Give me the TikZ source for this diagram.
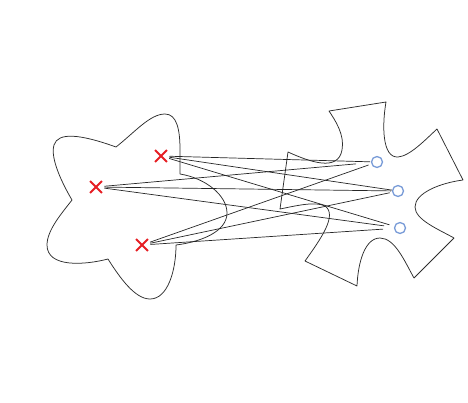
\documentclass[tikz,border=0pt]{standalone}
\usetikzlibrary{shapes.misc}
\definecolor{crossred}{RGB}{230,30,35}
\definecolor{ringblue}{RGB}{120,155,215}
\definecolor{outline}{RGB}{45,45,45}
\tikzset{
  xmark/.style={cross out, draw=crossred, line width=1.9pt, minimum size=10pt, inner sep=0pt},
  ring/.style={circle, draw=ringblue, line width=1.3pt, minimum size=11pt, inner sep=0pt},
  blob/.style={draw=outline, line width=0.75pt, line join=round},
  link/.style={draw=black!85, line width=0.7pt, shorten <=8.5pt}
}
\begin{document}
\begin{tikzpicture}[x=1pt,y=-1pt]
\useasboundingbox (0,0) rectangle (468,402);
% left star-like shape
\draw[blob] (116,147)
  .. controls (135,132) and (150,114) .. (165,114)
  .. controls (177,114) and (180,130) .. (180,150) -- (180,174)
  .. controls (205,178) and (227,195) .. (227,213)
  .. controls (227,232) and (200,242) .. (176,245)
  .. controls (176,270) and (168,299) .. (150,299)
  .. controls (135,299) and (120,278) .. (108,259)
  .. controls (85,265) and (47,268) .. (47,245)
  .. controls (47,230) and (62,213) .. (72,200)
  .. controls (62,183) and (50,158) .. (54,145)
  .. controls (58,132) and (80,134) .. cycle;
% right shape
\draw[blob] (329,111) -- (386,102)
  .. controls (382,125) and (382,158) .. (398,157)
  .. controls (410,156) and (425,140) .. (437,129) -- (463,180)
  .. controls (440,183) and (415,193) .. (415,207)
  .. controls (415,220) and (440,230) .. (454,238) -- (414,278)
  .. controls (405,262) and (395,238) .. (380,238)
  .. controls (365,238) and (358,262) .. (357,286) -- (305,261)
  .. controls (320,240) and (338,215) .. (325,206)
  .. controls (315,201) and (295,206) .. (280,209) -- (288,152)
  .. controls (310,162) and (338,172) .. (342,150)
  .. controls (345,135) and (335,120) .. cycle;
% points
\node[xmark] (x1) at (161,156) {};
\node[xmark] (x2) at (96,187) {};
\node[xmark] (x3) at (142,245) {};
\node[ring] (c1) at (377,162) {};
\node[ring] (c2) at (398,191) {};
\node[ring] (c3) at (400,228) {};
% links
\draw[link, shorten >=7pt] (x1.center) -- (c1.center);
\draw[link, shorten >=6pt] (x1.center) -- (c2.center);
\draw[link, shorten >=11pt] (x1.center) -- (c3.center);
\draw[link, shorten >=21pt] (x2.center) -- (c1.center);
\draw[link, shorten >=7pt] (x2.center) -- (c2.center);
\draw[link, shorten >=16pt] (x2.center) -- (c3.center);
\draw[link, shorten >=9pt] (x3.center) -- (c1.center);
\draw[link, shorten >=8.5pt] (x3.center) -- (c2.center);
\draw[link, shorten >=17pt] (x3.center) -- (c3.center);
\end{tikzpicture}
\end{document}
